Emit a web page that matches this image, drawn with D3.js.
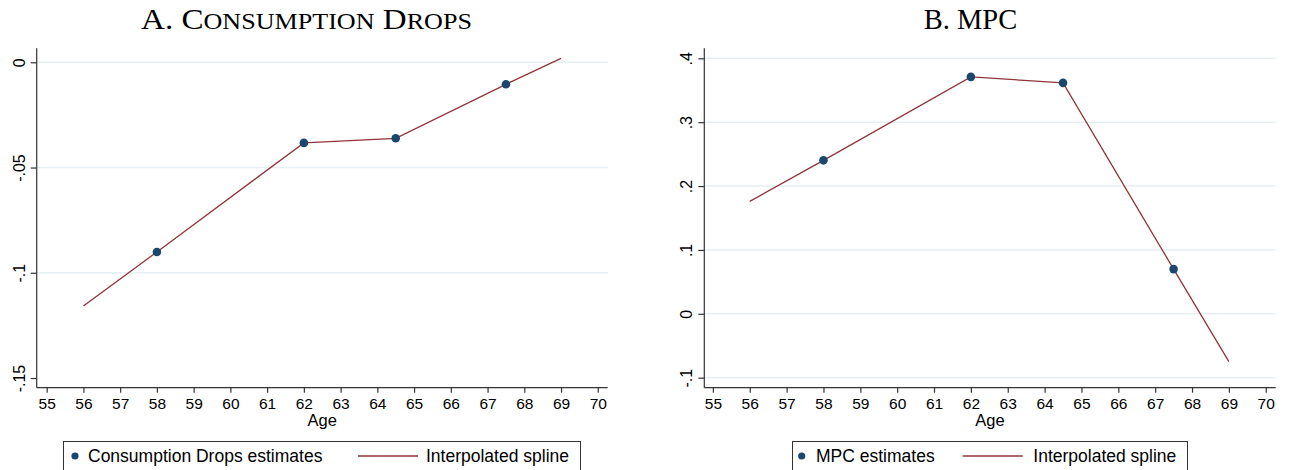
<!DOCTYPE html>
<html>
<head>
<meta charset="utf-8">
<script src="https://cdn.jsdelivr.net/npm/d3@7"></script>
<style>
  html, body { margin: 0; padding: 0; background: #fff; }
  svg { display: block; }
  text { font-family: "Liberation Sans", Arial, Helvetica, sans-serif; fill: #000; }
</style>
</head>
<body>
<svg id="chart" width="1291" height="470"></svg>
<script>
// ---------- data ----------
const estAges = [58, 62, 64.5, 67.5];
const splineAges = [56, 58, 62, 64.5, 67.5, 69];
const cdEstimates = [-0.0901, -0.0383, -0.0361, -0.01045];
const cdSpline = [-0.1158, -0.0901, -0.0383, -0.0361, -0.01045, 0.0019];
const mpcEstimates = [0.2403, 0.371, 0.3616, 0.070];
const mpcSpline = [0.176, 0.2403, 0.371, 0.3616, 0.070, -0.0748];
const xTicks = [55,56,57,58,59,60,61,62,63,64,65,66,67,68,69,70];
const cdTicks = [0, -0.05, -0.1, -0.15];
const cdTickLabels = ["0", "-.05", "-.1", "-.15"];
const cdGrid = [0, -0.05, -0.1];
const mpcTicks = [0.4, 0.3, 0.2, 0.1, 0, -0.1];
const mpcTickLabels = [".4", ".3", ".2", ".1", "0", "-.1"];
const mpcGrid = [0.4, 0.3, 0.2, 0.1, 0, -0.1];

const MARKER = "#1a476f";
const LINE = "#90353b";
const svg = d3.select("#chart");

function panel(cfg) {
  const g = svg.append("g");
  const x = d3.scaleLinear().domain(cfg.xDomain).range([cfg.left, cfg.right]);
  const y = d3.scaleLinear().domain(cfg.yDomain).range([cfg.bottom, cfg.top]);

  // gridlines
  g.append("g").selectAll("line").data(cfg.grid).join("line")
    .attr("x1", cfg.left).attr("x2", cfg.right)
    .attr("y1", d => y(d)).attr("y2", d => y(d))
    .attr("stroke", "#e6eff1").attr("stroke-width", 1.5);

  // y axis
  const ya = g.append("g").attr("transform", `translate(${cfg.left},0)`)
    .call(d3.axisLeft(y).tickValues(cfg.yTicks)
      .tickFormat((d, i) => cfg.yLabels[i]).tickSize(6).tickPadding(0));
  ya.select(".domain").attr("d", `M0,${cfg.top}V${cfg.bottom}`)
    .attr("stroke", "#333").attr("stroke-width", 1.2);
  ya.selectAll(".tick line").attr("stroke", "#333").attr("stroke-width", 1.2);
  ya.selectAll(".tick text")
    .attr("transform", "rotate(-90)")
    .attr("x", 0).attr("y", -12.2).attr("dy", 0)
    .attr("text-anchor", "middle")
    .style("font-size", "16px").style("fill", "#000");

  // x axis
  const xa = g.append("g").attr("transform", `translate(0,${cfg.bottom})`)
    .call(d3.axisBottom(x).tickValues(xTicks).tickFormat(d3.format("d")).tickSize(5).tickPadding(0));
  xa.select(".domain").attr("d", `M${cfg.left},0H${cfg.right}`)
    .attr("stroke", "#333").attr("stroke-width", 1.2);
  xa.selectAll(".tick line").attr("stroke", "#333").attr("stroke-width", 1.2);
  xa.selectAll(".tick text").attr("y", 21.3).attr("dy", 0)
    .style("font-size", "15.5px").style("fill", "#000");

  // axis title
  g.append("text").attr("x", (cfg.left + cfg.right) / 2).attr("y", 425.5)
    .attr("text-anchor", "middle").style("font-size", "16.5px").text("Age");

  // spline line
  const lineGen = d3.line().x((d, i) => x(splineAges[i])).y(d => y(d));
  g.append("path").datum(cfg.spline).attr("d", lineGen)
    .attr("fill", "none").attr("stroke", LINE).attr("stroke-width", 1.3);

  // markers
  g.append("g").selectAll("circle").data(cfg.est).join("circle")
    .attr("cx", (d, i) => x(estAges[i])).attr("cy", d => y(d))
    .attr("r", 4.3).attr("fill", MARKER);

  // title (small caps via tspans)
  const t = g.append("text")
    .attr("transform", `translate(${cfg.titleX},28.5) scale(${cfg.titleScale},1)`)
    .attr("text-anchor", "middle")
    .style("font-family", "'Liberation Serif', 'Times New Roman', serif");
  cfg.title.forEach(([s, big]) => {
    t.append("tspan").style("font-size", big ? "28.5px" : "22.5px").text(s);
  });

  // legend
  const L = cfg.legend;
  g.append("rect").attr("x", L.x0 + 0.5).attr("y", 441.5).attr("width", L.x1 - L.x0).attr("height", 40)
    .attr("fill", "#fff").attr("stroke", "#333").attr("stroke-width", 1);
  g.append("circle").attr("cx", L.dot).attr("cy", 456).attr("r", 3.6).attr("fill", MARKER);
  g.append("text").attr("x", L.t1).attr("y", 462.3).style("font-size", "17.5px").text(cfg.estLabel);
  g.append("line").attr("x1", L.l0).attr("x2", L.l1).attr("y1", 456).attr("y2", 456)
    .attr("stroke", LINE).attr("stroke-width", 1.3);
  g.append("text").attr("x", L.t2).attr("y", 462.3).style("font-size", "17.5px").text("Interpolated spline");
}

panel({
  left: 36.7, right: 607.7, top: 48.3, bottom: 387.7,
  xDomain: [54.728, 70.27], yDomain: [-0.1546, 0.00665],
  grid: cdGrid, yTicks: cdTicks, yLabels: cdTickLabels,
  spline: cdSpline, est: cdEstimates,
  titleX: 306.5, titleScale: 1.16,
  title: [["A. C", true], ["ONSUMPTION", false], [" D", true], ["ROPS", false]],
  legend: { x0: 63, x1: 580, dot: 75, t1: 88, l0: 358, l1: 418, t2: 426 },
  estLabel: "Consumption Drops estimates"
});

panel({
  left: 704.3, right: 1275.7, top: 48.3, bottom: 387.7,
  xDomain: [54.767, 70.27], yDomain: [-0.1157, 0.4157],
  grid: mpcGrid, yTicks: mpcTicks, yLabels: mpcTickLabels,
  spline: mpcSpline, est: mpcEstimates,
  titleX: 970.5, titleScale: 1.0,
  title: [["B. MPC", true]],
  legend: { x0: 792, x1: 1187, dot: 801.7, t1: 816, l0: 962.7, l1: 1022.7, t2: 1033.3 },
  estLabel: "MPC estimates"
});
</script>
</body>
</html>
